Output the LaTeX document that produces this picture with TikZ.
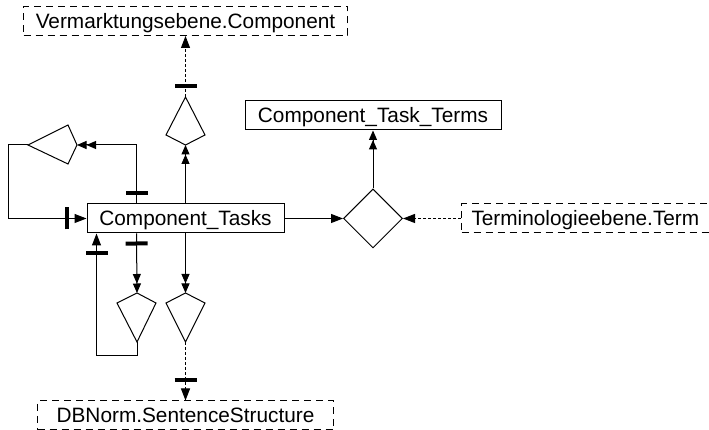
\documentclass[tikz,border=0pt]{standalone}
\usepackage{fontspec}
\setmainfont{Liberation Sans}
\usetikzlibrary{arrows.meta}
\usetikzlibrary{shapes.geometric}
\usetikzlibrary{decorations.markings}

\begin{document}
\begin{tikzpicture}[x=1pt, y=1pt, line width=1pt,
    table/.style={draw, minimum height=29pt, inner xsep=0pt, inner ysep=0pt,
      text height=15pt, text depth=0pt, font=\fontsize{20.8}{25}\selectfont},
    extern/.style={table, dash pattern=on 7pt off 5pt},
    one/.style={-{Triangle[length=12pt,width=9pt]}},
    many/.style={-{Triangle[length=9.5pt,width=8pt]Triangle[length=9.5pt,width=8pt]}},
    lookup/.style={dash pattern=on 3pt off 2pt},
    bar/.style={postaction={decorate,decoration={markings,
        mark=at position #1 with {\draw[solid,-,line width=4pt] (0,-11pt) -- (0,11pt);}}}}]
  \useasboundingbox (0,0) rectangle (709,430);

  % tables
  \node[table, minimum width=197pt] (tasks) at (185.5,211.5) {Component\_Tasks};
  \node[table, minimum width=256pt] (terms) at (373,314.5) {Component\_Task\_Terms};
  \node[extern, minimum width=324pt] (vmc) at (185.5,409) {Vermarktungsebene.Component};
  \node[extern, minimum width=296pt] (sent) at (185.5,14.5) {DBNorm.SentenceStructure};
  \node[extern, anchor=west, text width=250pt, align=left, inner xsep=10pt] (term) at (461,211.5) {Terminologieebene.Term};
  \node[draw, diamond, minimum width=59pt, minimum height=59pt, inner sep=0pt] (link) at (373,211.5) {};

  % kites
  \draw (185.5,333) coordinate (k1t) -- (205,295) -- (185.5,285) coordinate (k1b) -- (166,295) -- cycle;
  \draw (28,285) coordinate (k2t) -- (68,305) -- (77,285) coordinate (k2b) -- (68,266) -- cycle;
  \draw (137,137) coordinate (k3t) -- (156,127) -- (137,88) coordinate (k3b) -- (117,127) -- cycle;
  \draw (185.5,137) coordinate (k4t) -- (205,127) -- (185.5,88) coordinate (k4b) -- (166,127) -- cycle;

  % connectors
  \draw[many] (tasks.north) -- (k1b);
  \draw[one, lookup, bar=11pt] (k1t) -- (vmc.south);
  \draw[many, bar=10pt] ([xshift=50pt]tasks.north west) |- (k2b);
  \draw[one, bar=-20pt] (k2t) -- ++(-20,0) |- (tasks.west);
  \draw[many, bar=10pt] ([xshift=50pt]tasks.south west) -- (k3t);
  \draw[many] (tasks.south) -- (k4t);
  \draw[one, bar=-20pt] (k3b) -- ++(0,-14) -| ([xshift=10pt]tasks.south west);
  \draw[one, lookup, bar=-20pt] (k4b) -- (sent.north);
  \draw[one] (tasks.east) -- (link.west);
  \draw[one, lookup] (term.west) -- (link.east);
  \draw[many] (link.north) -- (terms.south);
\end{tikzpicture}
\end{document}
